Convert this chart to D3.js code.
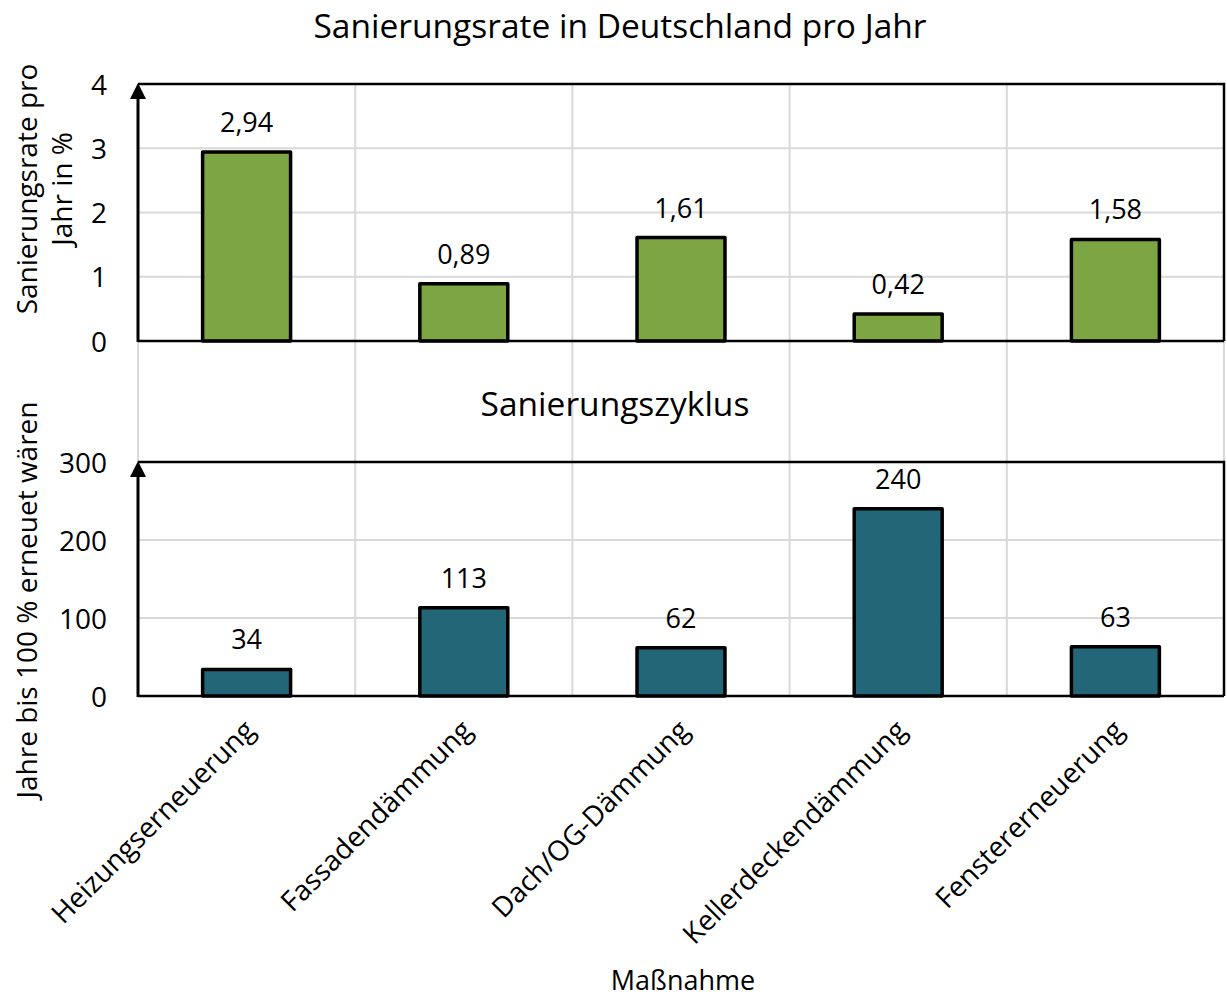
<!DOCTYPE html>
<html>
<head>
<meta charset="utf-8">
<script src="https://cdn.jsdelivr.net/npm/d3@7"></script>
<style>
  body { margin: 0; background: #fff; }
  text { font-family: "Open Sans", "Noto Sans", sans-serif; fill: #000; }
</style>
</head>
<body>
<div id="chart"></div>
<script>
// categories and values
var categories = ["Heizungserneuerung", "Fassadendämmung", "Dach/OG-Dämmung", "Kellerdeckendämmung", "Fenstererneuerung"];
var rateValues = [2.94, 0.89, 1.61, 0.42, 1.58];
var cycleValues = [34, 113, 62, 240, 63];
var rateTicks = [0, 1, 2, 3, 4];
var cycleTicks = [0, 100, 200, 300];

var width = 1227, height = 998;
var left = 138, right = 1224;

var de = d3.formatLocale({decimal: ",", thousands: ".", grouping: [3], currency: ["", " €"]});
var fmt2 = de.format(".2f");

var svg = d3.select("#chart").append("svg")
    .attr("width", width)
    .attr("height", height);

// band scale, outer padding = half the inner padding so each step is one gridline cell
var x = d3.scaleBand()
    .domain(categories)
    .range([left, right])
    .paddingInner(0.595)
    .paddingOuter(0.2975);

var yTop = d3.scaleLinear().domain([0, 4]).range([341, 84]);
var yBot = d3.scaleLinear().domain([0, 300]).range([696, 462]);

var grid = "#d9d9d9";

// vertical gridlines at the category borders, they run through the gap between the panels
var borders = categories.map(function(c) { return x(c) - x.step() * x.paddingInner() / 2; });
borders.push(right);
svg.selectAll(".vgrid")
    .data(borders)
    .enter().append("line")
    .attr("x1", function(d) { return d; })
    .attr("x2", function(d) { return d; })
    .attr("y1", yTop(4))
    .attr("y2", yBot(0))
    .attr("stroke", grid)
    .attr("stroke-width", 2);

function panel(y, ticks, values, color, fmt) {
    var g = svg.append("g");

    // horizontal gridlines
    g.selectAll(".hgrid")
        .data(ticks.slice(1, -1))
        .enter().append("line")
        .attr("x1", left).attr("x2", right)
        .attr("y1", function(d) { return y(d); })
        .attr("y2", function(d) { return y(d); })
        .attr("stroke", grid)
        .attr("stroke-width", 2);

    // frame top + right
    var top = y(ticks[ticks.length - 1]);
    g.append("path")
        .attr("d", "M" + left + "," + top + "H" + right + "V" + y(0))
        .attr("fill", "none")
        .attr("stroke", "#000")
        .attr("stroke-width", 2.5);

    // y axis with no tick marks
    var ax = g.append("g")
        .attr("transform", "translate(" + (left - 31) + ",0)")
        .call(d3.axisLeft(y).tickValues(ticks).tickSize(0).tickPadding(0).tickFormat(d3.format("d")));
    ax.select(".domain").remove();
    ax.selectAll("text")
        .style("font-size", "28px")
        .style("font-family", "'Open Sans', 'Noto Sans', sans-serif")
        .attr("dy", "0.36em");

    // bars
    g.selectAll(".bar")
        .data(values)
        .enter().append("rect")
        .attr("x", function(d, i) { return x(categories[i]); })
        .attr("width", x.bandwidth())
        .attr("y", function(d) { return y(d); })
        .attr("height", function(d) { return y(0) - y(d); })
        .attr("fill", color)
        .attr("stroke", "#000")
        .attr("stroke-width", 3.5)
        .attr("stroke-linejoin", "round");

    // data labels
    g.selectAll(".lbl")
        .data(values)
        .enter().append("text")
        .attr("x", function(d, i) { return x(categories[i]) + x.bandwidth() / 2; })
        .attr("y", function(d) { return y(d) - 20; })
        .attr("text-anchor", "middle")
        .style("font-size", "27px")
        .text(function(d) { return fmt(d); });

    // baseline
    g.append("line")
        .attr("x1", left).attr("x2", right)
        .attr("y1", y(0)).attr("y2", y(0))
        .attr("stroke", "#000")
        .attr("stroke-width", 2.5);

    // left axis line with arrow
    g.append("line")
        .attr("x1", left).attr("x2", left)
        .attr("y1", y(0) + 1).attr("y2", top + 12)
        .attr("stroke", "#000")
        .attr("stroke-width", 3);
    g.append("path")
        .attr("d", "M" + left + "," + (top - 1) + "L" + (left - 8) + "," + (top + 15) + "L" + (left + 8) + "," + (top + 15) + "Z")
        .attr("fill", "#000");
}

panel(yTop, rateTicks, rateValues, "#7ea543", fmt2);
panel(yBot, cycleTicks, cycleValues, "#226677", d3.format("d"));

// titles
svg.append("text")
    .attr("x", 620).attr("y", 38)
    .attr("text-anchor", "middle")
    .style("font-size", "33.5px")
    .text("Sanierungsrate in Deutschland pro Jahr");

svg.append("text")
    .attr("x", 615).attr("y", 416)
    .attr("text-anchor", "middle")
    .style("font-size", "33.5px")
    .text("Sanierungszyklus");

// y axis titles
svg.append("text")
    .attr("transform", "translate(37,189) rotate(-90)")
    .attr("text-anchor", "middle")
    .style("font-size", "28px")
    .text("Sanierungsrate pro");
svg.append("text")
    .attr("transform", "translate(72,189) rotate(-90)")
    .attr("text-anchor", "middle")
    .style("font-size", "28px")
    .text("Jahr in %");

svg.append("text")
    .attr("transform", "translate(37,600) rotate(-90)")
    .attr("text-anchor", "middle")
    .style("font-size", "28px")
    .text("Jahre bis 100 % erneuet wären");

// category labels, rotated
svg.selectAll(".cat")
    .data(categories)
    .enter().append("text")
    .attr("transform", function(d) {
        return "translate(" + (x(d) + x.bandwidth() / 2 + 10) + ",732) rotate(-45)";
    })
    .attr("text-anchor", "end")
    .style("font-size", "28px")
    .text(function(d) { return d; });

svg.append("text")
    .attr("x", 683).attr("y", 990)
    .attr("text-anchor", "middle")
    .style("font-size", "27px")
    .text("Maßnahme");
</script>
</body>
</html>
